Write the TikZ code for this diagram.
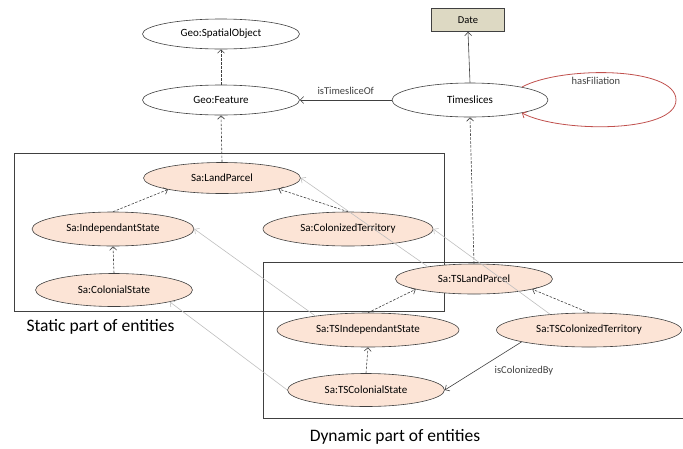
\documentclass[tikz,border=0pt]{standalone}
\usepackage{fontspec}
\setmainfont{Carlito}
\usepackage{tikz}
\usetikzlibrary{shapes.geometric}
\usetikzlibrary{arrows.meta}
\definecolor{peach}{HTML}{FCE4D6}
\definecolor{khaki}{HTML}{DDD9C3}
\definecolor{edge}{HTML}{404040}
\definecolor{lightline}{HTML}{BFBFBF}
\definecolor{loopred}{HTML}{C0504D}
\tikzset{>={Straight Barb[length=3.5pt,width=7pt]}}
\tikzset{
  concept/.style={ellipse, draw=edge, line width=0.6pt, inner sep=0pt, font=\fontsize{11}{13}\selectfont},
  entity/.style={concept, fill=peach},
  subclass/.style={->, dash pattern=on 2.5pt off 1.5pt, edge, line width=0.6pt},
  relation/.style={->, edge, line width=0.6pt},
  sliceof/.style={->, lightline, line width=0.6pt},
  lbl/.style={font=\fontsize{10.5}{12}\selectfont, text=edge}
}

\begin{document}
\begin{tikzpicture}[x=1pt, y=-1pt]
\useasboundingbox (0,0) rectangle (683,448);
  % Upper level classes
  \node[concept, minimum width=157, minimum height=30] (gso) at (221,34) {Geo:SpatialObject};
  \node[concept, minimum width=157, minimum height=30] (gfeat) at (221,100) {Geo:Feature};
  \node[concept, minimum width=156, minimum height=34] (ts) at (470,100) {Timeslices};
  \node[draw=edge, line width=0.6pt, fill=khaki, minimum width=73, minimum height=23, font=\fontsize{10.5}{12}\selectfont] (date) at (468,20) {Date};

  % Static part
  \draw[edge, line width=0.6pt] (14,153) rectangle (444,311);
  \node[entity, minimum width=157, minimum height=31] (lp) at (222,178) {Sa:LandParcel};
  \node[entity, minimum width=162, minimum height=34] (is) at (113,229) {Sa:IndependantState};
  \node[entity, minimum width=170, minimum height=34] (ct) at (348,229) {Sa:ColonizedTerritory};
  \node[entity, minimum width=157, minimum height=33] (cs) at (114,290) {Sa:ColonialState};
  \node[anchor=west, font=\fontsize{17.5}{20}\selectfont] (static) at (23,327) {Static part of entities};

  % Dynamic part
  \draw[edge, line width=0.6pt] (263,262) rectangle (700,418);
  \node[entity, minimum width=157, minimum height=30] (tslp) at (474,279) {Sa:TSLandParcel};
  \node[entity, minimum width=182, minimum height=34] (tsis) at (368,330) {Sa:TSIndependantState};
  \node[entity, minimum width=185, minimum height=34] (tsct) at (589,330) {Sa:TSColonizedTerritory};
  \node[entity, minimum width=157, minimum height=33] (tscs) at (366,390) {Sa:TSColonialState};
  \node[font=\fontsize{17.5}{20}\selectfont] (dynamic) at (395,437) {Dynamic part of entities};

  % Subclass links
  \draw[subclass] (gfeat.north) -- (gso.south);
  \draw[subclass] (lp.north) -- (gfeat.south);
  \draw[subclass] (is.north) -- (lp.-168);
  \draw[subclass] (ct.north) -- (lp.-11);
  \draw[subclass] (cs.north) -- (is.south);
  \draw[subclass] (tslp.north) -- (ts.south);
  \draw[subclass] (tsis.north) -- (tslp.-170);
  \draw[subclass] (tsct.north) -- (tslp.-10);
  \draw[subclass] (tscs.north) -- (tsis.south);

  % Timeslice links
  \draw[sliceof] (tslp.165) -- (lp.east);
  \draw[sliceof] (tsis.165) -- (is.east);
  \draw[sliceof] (tsct.158) -- (ct.east);
  \draw[sliceof] (tscs.west) -- (cs.-12);

  % Properties
  \draw[relation] (ts.west) -- (gfeat.east) node[midway, above, lbl, yshift=2pt] {isTimesliceOf};
  \draw[relation] (ts.north) -- (date.south);
  \draw[relation] (tsct.-170) -- (tscs.east);
  \node[lbl] (colby) at (524,371) {isColonizedBy};
  \draw[->, loopred, line width=0.8pt] (ts.14) .. controls (560,66) and (676,66) .. (676,100)
    .. controls (676,133) and (560,133) .. (ts.-14);
  \node[lbl] (filiation) at (596,81) {hasFiliation};
\end{tikzpicture}
\end{document}
